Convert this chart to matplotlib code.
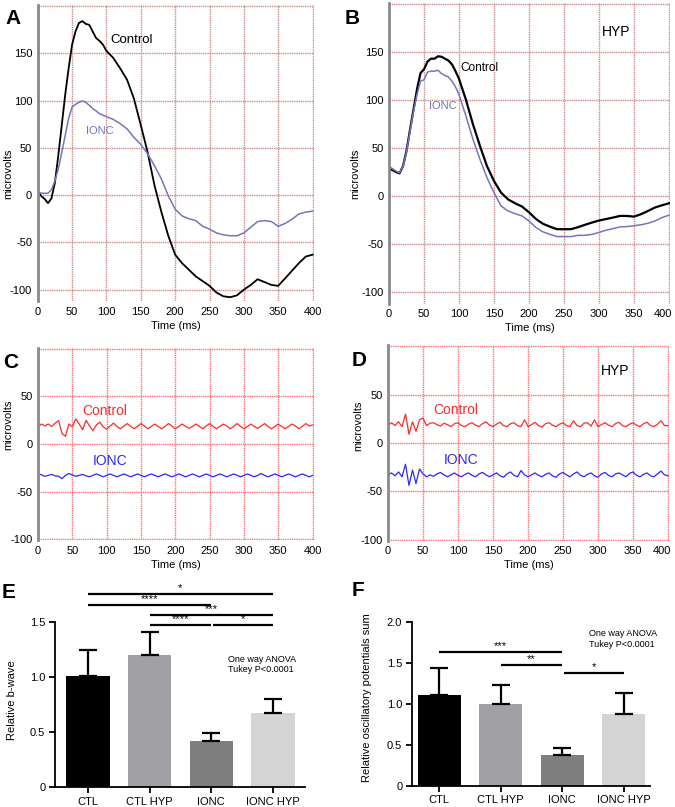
"""
ERG figure recreation: b-wave traces (A, B), oscillatory potentials (C, D)
and relative amplitude bar charts (E, F).
"""

import matplotlib
matplotlib.use('Agg')
import matplotlib.pyplot as plt
import matplotlib.transforms as mtransforms

plt.rcParams['font.family'] = ['Liberation Sans', 'DejaVu Sans']
plt.rcParams['axes.unicode_minus'] = False

COLORS = {
    'control': '#000000',
    'ionc': '#7874BC',
    'op_control': '#FF2A2A',
    'op_ionc': '#2A2AFF',
    'grid_ab': '#D08C8C',
    'grid_cd': '#FF7070',
    'spine': '#8A8A8A',
}
BAR_COLORS = ['#000000', '#A1A1A5', '#7F7F7F', '#D4D4D4']

# ---- b-wave traces (microvolts) ----
TIME_AB = list(range(0, 100, 5)) + list(range(100, 401, 10))

A_CONTROL = [4.6, -1, -4, -8.5, -3.5, 13, 42, 74, 106, 134,
             159, 173, 182, 184, 181, 180, 173, 166, 163, 159,
             152.5, 145, 134, 122, 102, 74, 45, 10, -18, -43,
             -63, -72, -79, -86, -91, -96, -103, -107, -108, -106,
             -100, -95, -89, -92, -95, -96, -88, -80, -72, -65, -63]
A_IONC = [3.5, 2, 1.8, 2, 5.7, 15, 27.7, 45, 63, 81,
          93, 96, 98, 99.6, 98, 95, 91.5, 89, 86, 84.5,
          83, 80, 75.5, 70, 61, 53.5, 43.6, 31, 17, -0.7,
          -15, -22, -25, -27, -33, -36, -40, -42, -43, -43,
          -40, -34, -28, -27, -28, -33, -30, -25.5, -20, -18, -17]

B_CONTROL = [28.4, 27, 25, 23.5, 31, 47, 69, 90, 111, 128,
             132, 140, 143, 143, 145.5, 145, 143, 141, 137, 130,
             122, 100, 74.5, 52, 31, 15.6, 3.5, -3.5, -7.6, -11,
             -17, -24, -29, -32, -34.6, -34.6, -34.6, -32.5, -30, -27.7,
             -25.6, -24, -22.5, -20.8, -20.8, -21.5, -19, -15.6, -12, -9.7, -7.6]
B_IONC = [31, 28.4, 26, 24, 30.5, 45.7, 67.5, 88, 105.6, 119.5,
          121, 129, 130, 130, 131, 127.5, 125.4, 124, 119.5, 113.6,
          105.6, 83, 59, 38, 19, 3.5, -10.4, -15.6, -18.4, -20.8,
          -26, -33, -37.4, -40, -42.3, -42.3, -42.3, -41, -41, -40,
          -38, -35.7, -34, -32.2, -31.9, -31, -30, -28.4, -26, -22.5, -20]

# ---- oscillatory potentials (microvolts) ----
TIME_CD = list(range(0, 401, 5))

C_CONTROL = [18, 21, 19, 21, 18.5, 22, 24.5, 11, 8, 21,
             18, 26.5, 21, 15, 25, 19, 14, 20, 23, 18,
             15.5, 19, 22, 18.5, 16, 19, 21.5, 18.5, 16, 18.5,
             21.5, 19, 16, 18.5, 21, 18.5, 16, 18.5, 21.5, 19,
             16, 18.5, 21, 18.5, 16.5, 18.5, 21, 18.5, 16, 19,
             21.5, 18.5, 16, 18.5, 21, 19, 16, 18.5, 21.5, 18.5,
             16, 18.5, 21, 18.5, 16.5, 19, 21.5, 18.5, 16, 18.5,
             21, 18.5, 16, 18.5, 21, 19, 16, 18.5, 21.5, 19,
             20]
C_IONC = [-31, -32.5, -34, -33, -32, -33.5, -34, -36.5, -33, -31,
          -32.5, -34, -33, -32, -33.5, -34.5, -33, -31.5, -33, -34.5,
          -33, -31.5, -33, -34.5, -33, -31.5, -33, -34.5, -33, -31.5,
          -33, -34.5, -33, -31.5, -33, -34.5, -33, -31.5, -33, -34.5,
          -33, -31.5, -33, -34.5, -33, -31.5, -33, -34.5, -33, -31.5,
          -33, -34.5, -33, -31.5, -33, -34.5, -33, -31.5, -33, -34.5,
          -33, -31.5, -33, -34.5, -33, -31, -33, -34.5, -33, -31.5,
          -33, -34.5, -33, -31.5, -33, -34.5, -33, -31.5, -33, -34.5,
          -33]

D_CONTROL = [18, 21, 18, 22, 17, 30, 9, 22, 12, 24,
             26, 18, 20.5, 21, 19, 17.5, 20.5, 19, 17, 20,
             21, 18, 17, 19.5, 21, 18.5, 17, 20, 22, 18.5,
             17, 19.5, 21.5, 18, 17, 20, 21, 18, 17, 24,
             17, 19, 21.5, 18, 16.5, 20, 21, 18.5, 17, 19.5,
             21, 18, 17, 23, 18, 17, 20.5, 21, 17.5, 24,
             17, 19, 21, 18.5, 17, 20, 21.5, 18, 17, 19.5,
             21, 18.5, 17, 20, 21.5, 18, 17, 19.5, 23, 18,
             18]
D_IONC = [-33, -31, -34, -30, -35, -22, -44, -28, -42, -27,
          -32, -35, -33, -34.5, -32, -30.5, -33, -35, -33, -31,
          -33.5, -35, -32.5, -31, -33.5, -35, -32, -30.5, -33, -35,
          -33, -31, -34, -35.5, -32, -30, -33.5, -35, -28.5, -33,
          -35, -33, -31, -33.5, -35, -32.5, -31, -34, -35.5, -32,
          -30.5, -33, -35, -32, -30, -33.5, -35, -32.5, -31, -34,
          -35.5, -32, -30.5, -33.5, -35, -32, -31, -33, -35, -31.5,
          -30, -33.5, -35, -32.5, -31, -34, -35, -32, -29, -33,
          -34]

# ---- bar charts ----
GROUPS = ['CTL', 'CTL HYP', 'IONC', 'IONC HYP']

E_MEAN = [1.01, 1.20, 0.42, 0.675]
E_ERR = [0.24, 0.21, 0.07, 0.125]
E_SIG_PAIRS = [(0, 3), (0, 2), (1, 3), (1, 2), (2.03, 3)]
E_SIG_LEVEL = [1.755, 1.655, 1.564, 1.47, 1.47]
E_SIG_STARS = ['*', '****', '***', '****', '*']

F_MEAN = [1.105, 1.0, 0.38, 0.876]
F_ERR = [0.33, 0.23, 0.077, 0.254]
F_SIG_PAIRS = [(0, 2), (1, 2), (2.03, 3)]
F_SIG_LEVEL = [1.63, 1.47, 1.38]
F_SIG_STARS = ['***', '**', '*']

W, H = 675, 807


def px_axes(fig, left, top, right, bottom):
    return fig.add_axes([left / W, 1 - bottom / H, (right - left) / W, (bottom - top) / H])


def trace_axes(ax, ylim, yticks, grid_color, ylab_xy, nudge_last=False):
    ax.set_xlim(0, 402)
    ax.set_ylim(*ylim)
    ax.set_xticks(range(0, 401, 50))
    ax.set_yticks(yticks)
    for x in range(50, 401, 50):
        ax.axvline(x, color=grid_color, lw=1.0, ls=(0, (1.0, 0.6)), zorder=0)
    for y in list(yticks) + [yticks[-1] + 50]:
        ax.axhline(y, color=grid_color, lw=1.0, ls=(0, (1.0, 0.6)), zorder=0)
    for s in ['top', 'right', 'bottom']:
        ax.spines[s].set_visible(False)
    ax.spines['left'].set_color(COLORS['spine'])
    ax.spines['left'].set_linewidth(2)
    ax.tick_params(length=0, labelsize=8, pad=4)
    ax.set_xlabel('Time (ms)', fontsize=8, labelpad=3)
    ax.set_ylabel('microvolts', fontsize=8)
    ax.yaxis.set_label_coords(*ylab_xy)
    if nudge_last:
        # keep the right-most tick label inside the figure edge
        lab = ax.get_xticklabels()[-1]
        lab.set_transform(lab.get_transform() + mtransforms.ScaledTranslation(
            -6 / 100, 0, ax.figure.dpi_scale_trans))


def bar_panel(ax, mean, err, pairs, levels, stars, ylim, yticks, ylabel, ylab_xy, note_xy):
    x = list(range(len(GROUPS)))
    ax.bar(x, mean, width=0.7, color=BAR_COLORS, zorder=1)
    ax.errorbar(x, mean, yerr=[[0] * len(err), err], fmt='none', ecolor='black',
                elinewidth=1.6, capsize=6.5, capthick=1.6, zorder=2)
    for (x0, x1), lev, st in zip(pairs, levels, stars):
        ax.plot([x0, x1], [lev, lev], color='black', lw=1.6, clip_on=False,
                solid_capstyle='butt')
        ax.text((x0 + x1) / 2, lev + 0.012, st, ha='center', va='bottom',
                fontsize=8, clip_on=False)
    ax.set_ylim(*ylim)
    ax.set_yticks(yticks)
    ax.set_yticklabels(['0' if v == 0 else f'{v:.1f}' for v in yticks])
    ax.set_xticks(x)
    ax.set_xticklabels(GROUPS)
    for s in ['top', 'right']:
        ax.spines[s].set_visible(False)
    for s in ['left', 'bottom']:
        ax.spines[s].set_linewidth(1.3)
    ax.tick_params(labelsize=8, width=1.3, length=4, pad=3)
    ax.set_ylabel(ylabel, fontsize=8)
    ax.yaxis.set_label_coords(*ylab_xy)
    ax.text(note_xy[0], note_xy[1], 'One way ANOVA\nTukey P<0.0001',
            fontsize=6.5, ha='left', va='top', linespacing=1.2)


fig = plt.figure(figsize=(W / 100, H / 100), dpi=100, facecolor='white')

# A
ax = px_axes(fig, 37.7, 5, 314, 301)
trace_axes(ax, (-112, 201), range(-100, 151, 50), COLORS['grid_ab'], (-0.089, 0.43))
ax.plot(TIME_AB, A_CONTROL, color=COLORS['control'], lw=1.3)
ax.plot(TIME_AB, A_IONC, color=COLORS['ionc'], lw=1.1)
ax.text(137, 164, 'Control', fontsize=9.5, color=COLORS['control'], ha='center', va='center')
ax.text(91, 68, 'IONC', fontsize=8, color=COLORS['ionc'], ha='center', va='center')

# B
ax = px_axes(fig, 389, 3, 670.4, 303.5)
trace_axes(ax, (-112, 201), range(-100, 151, 50), COLORS['grid_ab'], (-0.103, 0.43),
           nudge_last=True)
ax.plot(TIME_AB, B_CONTROL, color=COLORS['control'], lw=1.6)
ax.plot(TIME_AB, B_IONC, color=COLORS['ionc'], lw=1.1)
ax.text(324, 171, 'HYP', fontsize=10, ha='center', va='center')
ax.text(129, 133.6, 'Control', fontsize=8.5, color=COLORS['control'], ha='center', va='center')
ax.text(77, 93.7, 'IONC', fontsize=8, color=COLORS['ionc'], ha='center', va='center')

# C
ax = px_axes(fig, 38, 348, 314, 540)
trace_axes(ax, (-101, 101), range(-100, 51, 50), COLORS['grid_cd'], (-0.09, 0.6))
ax.plot(TIME_CD, C_CONTROL, color=COLORS['op_control'], lw=0.9)
ax.plot(TIME_CD, C_IONC, color=COLORS['op_ionc'], lw=0.9)
ax.text(97, 35, 'Control', fontsize=10, color=COLORS['op_control'], ha='center', va='center')
ax.text(105, -17.6, 'IONC', fontsize=10, color=COLORS['op_ionc'], ha='center', va='center')

# D
ax = px_axes(fig, 388, 345.5, 669.4, 540.5)
trace_axes(ax, (-101, 101), range(-100, 51, 50), COLORS['grid_cd'], (-0.089, 0.59),
           nudge_last=True)
ax.plot(TIME_CD, D_CONTROL, color=COLORS['op_control'], lw=0.9)
ax.plot(TIME_CD, D_IONC, color=COLORS['op_ionc'], lw=0.9)
ax.text(325, 75, 'HYP', fontsize=10, ha='center', va='center')
ax.text(97, 34, 'Control', fontsize=10, color=COLORS['op_control'], ha='center', va='center')
ax.text(105, -18, 'IONC', fontsize=10, color=COLORS['op_ionc'], ha='center', va='center')

# E
ax = px_axes(fig, 55, 622, 305, 787)
ax.set_xlim(-0.535, 3.52)
bar_panel(ax, E_MEAN, E_ERR, E_SIG_PAIRS, E_SIG_LEVEL, E_SIG_STARS,
          (0, 1.5), [0, 0.5, 1.0, 1.5], 'Relative b-wave', (-0.152, 0.527), (2.27, 1.2))

# F
ax = px_axes(fig, 412, 622, 650, 785.7)
ax.set_xlim(-0.44, 3.43)
bar_panel(ax, F_MEAN, F_ERR, F_SIG_PAIRS, F_SIG_LEVEL, F_SIG_STARS,
          (0, 2.0), [0, 0.5, 1.0, 1.5, 2.0], 'Relative oscillatory potentials sum',
          (-0.169, 0.54), (2.44, 1.91))

# panel letters
for letter, (x, y) in zip('ABCDEF', [(5, 18), (345, 18), (3, 363), (352, 360),
                                     (2, 592), (352, 590)]):
    fig.text(x / W, 1 - y / H, letter, fontsize=15, fontweight='bold',
             ha='left', va='center')

fig.savefig('out.png', dpi=100, facecolor='white')
